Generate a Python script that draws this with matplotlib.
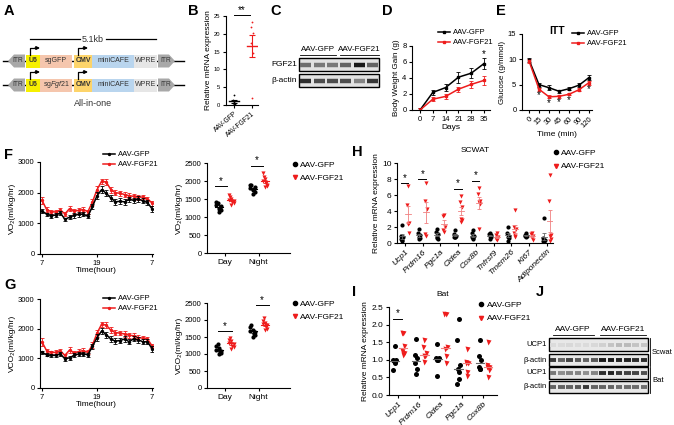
import matplotlib
matplotlib.use("Agg")
import matplotlib.pyplot as plt
import numpy as np
from matplotlib.lines import Line2D
from matplotlib.patches import Polygon, Rectangle

plt.rcParams["font.family"] = ["Liberation Sans", "DejaVu Sans"]
plt.rcParams["mathtext.fontset"] = "custom"
plt.rcParams["mathtext.rm"] = "Liberation Sans"
plt.rcParams["mathtext.it"] = "Liberation Sans:italic"
plt.rcParams["font.size"] = 5.5
plt.rcParams["axes.linewidth"] = 0.8

RED = "#ee1c1c"
GROUPS = ["AAV-GFP", "AAV-FGF21"]

# ---- A: construct parts
PARTS = ["U6", "sgGFP", "CMV", "miniCAFE", "WPRE"]
PARTS_2 = ["U6", "sg$\\mathit{Fgf21}$", "CMV", "miniCAFE", "WPRE"]
PART_COLORS = ["#f6f000", "#f5c6ad", "#fdd46a", "#b9d5ee", "#e6e6e6"]

# ---- B: Fgf21 mRNA
B_GFP = [2.9, 1.4, 1.0, 0.6, 0.3, 0.2]
B_FGF = [23.4, 21.8, 20.2, 17.5, 14.5, 2.1]

# ---- C: western blot intensities (6 lanes)
C_FGF21 = [0.55, 0.5, 0.5, 0.6, 0.95, 0.6]
C_ACTIN = [0.85, 0.7, 0.7, 0.7, 0.45, 0.8]

# ---- D: body weight gain
DAYS = [0, 7, 14, 21, 28, 35]
D_GFP = [0.0, 2.2, 2.8, 4.1, 4.6, 5.8]
D_GFP_ERR = [0.3, 0.3, 0.4, 0.7, 0.6, 0.7]
D_FGF = [0.0, 1.35, 1.7, 2.6, 3.2, 3.7]
D_FGF_ERR = [0.3, 0.25, 0.3, 0.3, 0.4, 0.6]

# ---- E: ITT
ITT_TIME = ["0", "15", "30", "45", "60", "90", "120"]
E_GFP = [9.9, 5.0, 4.4, 3.7, 4.2, 4.9, 6.4]
E_GFP_ERR = [0.4, 0.4, 0.5, 0.3, 0.3, 0.4, 0.5]
E_FGF = [9.7, 4.1, 2.6, 2.7, 3.1, 4.0, 5.4]
E_FGF_ERR = [0.4, 0.3, 0.3, 0.3, 0.2, 0.3, 0.4]
E_SIG = [1, 2, 3, 4, 6]

# ---- F / G: indirect calorimetry, hourly 7:00 -> 7:00
HOURS = list(range(7, 32))
VO2_GFP = [1400, 1300, 1250, 1270, 1340, 1130, 1200, 1260, 1290, 1300, 1230, 1550, 1900,
           2100, 1980, 1830, 1700, 1720, 1700, 1780, 1750, 1800, 1730, 1680, 1470]
VO2_GFP_ERR = [60, 50, 60, 60, 70, 60, 60, 70, 80, 70, 60, 90, 110,
               110, 100, 110, 100, 90, 100, 90, 80, 90, 80, 90, 110]
VO2_FGF = [1750, 1450, 1380, 1370, 1430, 1310, 1480, 1400, 1420, 1450, 1380, 1700, 2100,
           2370, 2350, 2100, 2000, 1980, 1940, 1900, 1880, 1850, 1860, 1800, 1660]
VO2_FGF_ERR = [120, 70, 60, 70, 80, 60, 90, 80, 80, 90, 70, 100, 120,
               80, 90, 100, 90, 80, 90, 80, 90, 80, 80, 70, 80]
VCO2_GFP = [1200, 1120, 1100, 1100, 1150, 980, 1020, 1100, 1150, 1150, 1120, 1400, 1700,
            1920, 1800, 1650, 1580, 1600, 1650, 1560, 1660, 1620, 1560, 1560, 1320]
VCO2_GFP_ERR = VO2_GFP_ERR
VCO2_FGF = [1550, 1260, 1200, 1200, 1250, 1100, 1280, 1180, 1230, 1260, 1200, 1450, 1850,
            2150, 2120, 1950, 1870, 1850, 1820, 1780, 1760, 1700, 1680, 1650, 1420]
VCO2_FGF_ERR = VO2_FGF_ERR

PERIODS = ["Day", "Night"]
VO2_DAY_GFP = [1150, 1330, 1200, 1400, 1260, 1230, 1420, 1300]
VO2_DAY_FGF = [1330, 1480, 1380, 1560, 1420, 1500, 1620, 1450]
VO2_NIGHT_GFP = [1640, 1800, 1700, 1880, 1770, 1740, 1900, 1830]
VO2_NIGHT_FGF = [1820, 2000, 1850, 2100, 1950, 2050, 2230, 1900]
VCO2_DAY_GFP = [1000, 1130, 1030, 1280, 1060, 1180, 1230, 1100]
VCO2_DAY_FGF = [1150, 1330, 1200, 1470, 1250, 1370, 1420, 1290]
VCO2_NIGHT_GFP = [1500, 1680, 1550, 1850, 1600, 1720, 1780, 1650]
VCO2_NIGHT_FGF = [1700, 1880, 1750, 2050, 1800, 1920, 1980, 1850]

# ---- H: SCWAT qPCR
H_GENES = ["Ucp1", "Prdm16", "Pgc1a", "Cidea", "Cox8b", "Tnfrsf9", "Tmem26", "Ki67", "Adiponectin"]
H_GFP = [[2.2, 0.9, 0.7, 0.5, 0.4, 0.3],
         [1.7, 1.3, 1.0, 0.8, 0.6, 0.5],
         [1.7, 1.4, 1.1, 0.8, 0.5, 0.6],
         [1.6, 1.1, 0.9, 0.8, 0.8, 0.7],
         [1.6, 1.2, 0.9, 0.8, 0.6, 0.5],
         [1.3, 1.1, 1.0, 0.9, 0.8, 0.5],
         [2.0, 1.2, 0.9, 0.8, 0.6, 0.2],
         [1.2, 1.0, 0.9, 0.9, 0.8],
         [3.1, 0.6, 0.4, 0.3, 0.2, 0.2]]
H_FGF = [[7.1, 4.8, 2.5, 2.4, 1.2],
         [7.5, 5.3, 4.3, 1.1, 0.9],
         [3.5, 3.4, 2.0, 1.6, 1.4],
         [5.9, 5.1, 4.5, 3.0, 2.9, 2.6],
         [6.9, 6.1, 5.2, 5.1, 4.9, 1.8],
         [1.3, 1.0, 0.7, 0.5, 0.4, 0.6],
         [4.1, 2.0, 1.7, 1.3, 0.9, 0.7],
         [1.3, 1.1, 0.9, 0.6, 0.4],
         [8.5, 5.2, 1.0, 0.9, 0.5, 0.2]]
H_SIG = {0: 7.45, 1: 8.0, 3: 6.8, 4: 7.8}

# ---- I: BAT qPCR
I_GENES = ["Ucp1", "Prdm16", "Cidea", "Pgc1a", "Cox8b"]
I_GFP = [[1.4, 1.0, 1.0, 0.98, 0.95, 0.9, 0.7],
         [1.6, 1.15, 1.05, 0.9, 0.75, 0.6],
         [1.45, 1.05, 1.05, 1.0, 1.0, 0.55],
         [2.15, 1.55, 0.85, 0.75, 0.65, 0.45, 0.3],
         [1.55, 1.1, 1.0, 0.8, 0.75, 0.75]]
I_FGF = [[1.75, 1.75, 1.4, 1.25, 1.2, 1.15],
         [1.55, 1.35, 1.2, 1.1, 1.1, 0.95],
         [2.3, 2.3, 1.35, 1.3, 1.1, 0.9],
         [1.3, 0.95, 0.92, 0.9, 0.65, 0.55],
         [1.5, 0.85, 0.8, 0.8, 0.7, 0.5]]
I_SIG = {0: 2.17}

# ---- J: western blot intensities (12 lanes)
J_ROWS = ["UCP1", "β-actin", "UCP1", "β-actin"]
J_BANDS = [[0.05, 0.05, 0.06, 0.05, 0.05, 0.06, 0.1, 0.16, 0.2, 0.2, 0.16, 0.15],
           [0.8, 0.6, 0.75, 0.65, 0.6, 0.65, 0.95, 0.95, 0.9, 0.9, 0.85, 0.85],
           [0.5, 0.4, 0.45, 0.45, 0.4, 0.45, 0.85, 0.9, 0.8, 0.75, 0.75, 0.7],
           [0.6, 0.6, 0.6, 0.65, 0.8, 0.6, 0.6, 0.6, 0.55, 0.55, 0.55, 0.55]]
J_TISSUES = ["Scwat", "Bat"]

W, H = 674, 425
fig = plt.figure(figsize=(W / 100, H / 100), dpi=100)


def px_axes(x0, y0, x1, y1):
    return fig.add_axes([x0 / W, 1 - y1 / H, (x1 - x0) / W, (y1 - y0) / H])


def px_canvas(x0, y0, x1, y1):
    ax = px_axes(x0, y0, x1, y1)
    ax.set_xlim(x0, x1)
    ax.set_ylim(y1, y0)
    ax.axis("off")
    return ax


def prism(ax, size=5.5):
    ax.spines["top"].set_visible(False)
    ax.spines["right"].set_visible(False)
    ax.tick_params(length=2.5, width=0.8, pad=1.5, labelsize=size)


def letter(x, y, s):
    fig.text(x / W, 1 - y / H, s, fontsize=10.5, fontweight="bold", va="top", ha="left")


def legend(ax, handles, x, y, size=5.5):
    ax.legend(handles, GROUPS, loc="upper left", bbox_to_anchor=(x / W, 1 - y / H),
              bbox_transform=fig.transFigure, frameon=False, fontsize=size,
              handlelength=1.6, handletextpad=0.4, borderpad=0, borderaxespad=0,
              labelspacing=0.35)


def sig(ax, x0, x1, y, dy, size=7, text="*"):
    ax.plot([x0, x1], [y, y], color="k", lw=0.7, clip_on=False)
    ax.text((x0 + x1) / 2, y + dy, text, ha="center", va="center", fontsize=size, clip_on=False)


def spread(n, w):
    return np.resize([0.0, -w, w, -w / 2, w / 2], n)


def blot(ax, x0, x1, y0, y1, bands, half, lw, bg):
    ax.add_patch(Rectangle((x0, y0), x1 - x0, y1 - y0, fc=bg, ec="k", lw=1.0))
    for j, b in enumerate(bands):
        xc = x0 + (x1 - x0) * (j + 0.5) / len(bands)
        g = 0.9 - 0.85 * b
        ax.plot([xc - half, xc + half], [(y0 + y1) / 2] * 2, color=(g, g, g), lw=lw,
                solid_capstyle="butt")


# ================= A =================
letter(4, 4, "A")
axA = px_canvas(0, 0, 195, 120)
axA.plot([30, 80], [39, 39], color="k", lw=0.9)
axA.plot([106, 156], [39, 39], color="k", lw=0.9)
axA.text(93, 39, "5.1kb", ha="center", va="center", fontsize=6.5, color="#333333")
spans = [(26, 40), (40, 72), (74, 92), (92, 134), (134, 157)]
for yc, names in ((61, PARTS), (85, PARTS_2)):
    axA.plot([3, 184], [yc, yc], color="k", lw=1.0, zorder=1)
    axA.add_patch(Polygon([(8, yc), (14, yc - 6.5), (25, yc - 6.5), (25, yc + 6.5), (14, yc + 6.5)],
                          closed=True, fc="#a8a8a8", ec="none", zorder=2))
    axA.add_patch(Polygon([(175, yc), (169, yc - 6.5), (158, yc - 6.5), (158, yc + 6.5), (169, yc + 6.5)],
                          closed=True, fc="#a8a8a8", ec="none", zorder=2))
    axA.text(18, yc, "ITR", ha="center", va="center", fontsize=4.8, color="#333333", zorder=3)
    axA.text(166, yc, "ITR", ha="center", va="center", fontsize=4.8, color="#333333", zorder=3)
    for (x0, x1), name, col in zip(spans, names, PART_COLORS):
        axA.add_patch(Rectangle((x0, yc - 6.5), x1 - x0, 13, fc=col, ec="none", zorder=2))
        axA.text((x0 + x1) / 2, yc, name, ha="center", va="center", fontsize=5,
                 color="#333333", zorder=3, fontweight="bold" if name in ("U6", "CMV") else "normal")
    for xp in (30, 78):
        axA.plot([xp, xp, xp + 6], [yc - 6.5, yc - 13, yc - 13], color="k", lw=0.9, zorder=3)
        axA.annotate("", xy=(xp + 10, yc - 13), xytext=(xp + 5, yc - 13),
                     arrowprops=dict(arrowstyle="-|>", lw=0.9, color="k", mutation_scale=5,
                                     shrinkA=0, shrinkB=0))
axA.text(93, 103, "All-in-one", ha="center", va="center", fontsize=6.5, color="#333333")

# ================= B =================
letter(188, 4, "B")
axB = px_axes(226, 16, 258, 105)
prism(axB, 4.2)
for i, (vals, col) in enumerate(((B_GFP, "k"), (B_FGF, RED))):
    v = np.array(vals)
    m, se = v.mean(), v.std(ddof=1) / np.sqrt(len(v))
    axB.plot(i + spread(len(v), 0.08), v, "o", ms=1.3, color=col, mec="none")
    axB.plot([i - 0.3, i + 0.3], [m, m], color=col, lw=1.0)
    axB.errorbar(i, m, yerr=se, color=col, capsize=2.5, elinewidth=0.8, capthick=0.8, fmt="none")
axB.set_xlim(-0.44, 1.33)
axB.set_ylim(0, 25)
axB.set_yticks([0, 5, 10, 15, 20, 25])
axB.set_xticks([0, 1])
axB.set_xticklabels(GROUPS, rotation=40, ha="right", rotation_mode="anchor", fontsize=4.8)
axB.set_ylabel("Relative mRNA expression", fontsize=6, labelpad=1)
sig(axB, 0.0, 0.9, 25.2, 1.6, size=7, text="**")

# ================= C =================
letter(270, 4, "C")
axC = px_canvas(240, 40, 385, 90)
for (y0, y1), bands, name in (((58, 71), C_FGF21, "FGF21"), ((74, 87), C_ACTIN, "β-actin")):
    blot(axC, 299, 379, y0, y1, bands, 5.5, 3.2, "#e2e2e2")
    axC.text(297, (y0 + y1) / 2, name, ha="right", va="center", fontsize=6)
axC.plot([300, 336], [55, 55], color="k", lw=0.6)
axC.plot([340, 379], [55, 55], color="k", lw=0.6)
axC.text(318, 53, GROUPS[0], ha="center", va="bottom", fontsize=5.8)
axC.text(359, 53, GROUPS[1], ha="center", va="bottom", fontsize=5.8)

# ================= D =================
letter(382, 4, "D")
axD = px_axes(412, 46, 490, 110)
prism(axD)
eb1 = axD.errorbar(DAYS, D_GFP, yerr=D_GFP_ERR, color="k", lw=1.1, marker="s", ms=1.5,
                   capsize=1.2, elinewidth=0.6, capthick=0.6)
eb2 = axD.errorbar(DAYS, D_FGF, yerr=D_FGF_ERR, color=RED, lw=1.1, marker="s", ms=1.5,
                   capsize=1.2, elinewidth=0.6, capthick=0.6)
axD.set_xlim(-4.4, 38.3)
axD.set_ylim(0, 8)
axD.set_xticks(DAYS)
axD.set_yticks([0, 2, 4, 6, 8])
axD.set_xlabel("Days", fontsize=6, labelpad=1)
axD.set_ylabel("Body Weight Gain (g)", fontsize=5.8, labelpad=1.5)
axD.text(35, 7.0, "*", ha="center", va="center", fontsize=7)
legend(axD, [eb1.lines[0], eb2.lines[0]], 438, 29)

# ================= E =================
letter(496, 4, "E")
axE = px_axes(522, 34, 592, 110)
prism(axE)
xs = np.arange(len(ITT_TIME))
e1 = axE.errorbar(xs, E_GFP, yerr=E_GFP_ERR, color="k", lw=1.1, marker="s", ms=1.5,
                  capsize=1.2, elinewidth=0.6, capthick=0.6)
e2 = axE.errorbar(xs, E_FGF, yerr=E_FGF_ERR, color=RED, lw=1.1, marker="s", ms=1.5,
                  capsize=1.2, elinewidth=0.6, capthick=0.6)
for k in E_SIG:
    axE.text(xs[k], E_FGF[k] - 1.2, "*", ha="center", va="center", fontsize=7)
axE.set_xlim(-0.7, 6.3)
axE.set_ylim(0, 15)
axE.set_yticks([0, 5, 10, 15])
axE.set_xticks(xs)
axE.set_xticklabels(ITT_TIME, rotation=45, ha="right", rotation_mode="anchor")
axE.set_xlabel("Time (min)", fontsize=6, labelpad=1)
axE.set_ylabel("Glucose (g/mmol)", fontsize=5.8, labelpad=1.5)
fig.text(557 / W, 1 - 31 / H, "ITT", fontsize=7.5, fontweight="bold", ha="center", va="center")
legend(axE, [e1.lines[0], e2.lines[0]], 572, 30)


# ================= F / G time course =================
def time_panel(box, gfp, gfp_err, fgf, fgf_err, ylabel, leg_xy):
    ax = px_axes(*box)
    prism(ax)
    l1 = ax.errorbar(HOURS, gfp, yerr=gfp_err, color="k", lw=1.1, marker="o", ms=1.4,
                     capsize=1.2, elinewidth=0.6, capthick=0.6)
    l2 = ax.errorbar(HOURS, fgf, yerr=fgf_err, color=RED, lw=1.1, marker="o", ms=1.4,
                     capsize=1.2, elinewidth=0.6, capthick=0.6, zorder=1)
    ax.set_xlim(6.56, 31.2)
    ax.set_ylim(0, 3000)
    ax.set_yticks([0, 1000, 2000, 3000])
    ax.set_xticks([7, 19, 31])
    ax.set_xticklabels(["7", "19", "7"])
    ax.set_xlabel("Time(hour)", fontsize=6, labelpad=0.5)
    ax.set_ylabel(ylabel, fontsize=6, labelpad=1.5)
    legend(ax, [l1.lines[0], l2.lines[0]], *leg_xy)


def period_panel(box, groups, ylabel, sig_spec, leg_xy):
    ax = px_axes(*box)
    prism(ax)
    for i, (g_vals, f_vals) in enumerate(groups):
        for vals, off, col, mk in ((g_vals, -0.18, "k", "o"), (f_vals, 0.19, RED, "v")):
            v = np.array(vals)
            m, se = v.mean(), v.std(ddof=1) / np.sqrt(len(v))
            ax.plot(i + off + spread(len(v), 0.07), v, mk, ms=3, color=col, mec="none")
            ax.plot([i + off - 0.12, i + off + 0.12], [m, m], color=col, lw=0.8)
            ax.errorbar(i + off, m, yerr=se, color=col, capsize=1.5, elinewidth=0.6,
                        capthick=0.6, fmt="none")
    for i, (x0, x1, y) in enumerate(sig_spec):
        sig(ax, i + x0, i + x1, y, 150)
    ax.set_xlim(-0.53, 1.93)
    ax.set_ylim(0, 2500)
    ax.set_yticks([0, 500, 1000, 1500, 2000, 2500])
    ax.set_xticks([0, 1])
    ax.set_xticklabels(PERIODS, fontsize=6)
    ax.set_ylabel(ylabel, fontsize=6, labelpad=1.5)
    h = [Line2D([], [], ls="none", marker="o", ms=3, color="k"),
         Line2D([], [], ls="none", marker="v", ms=3, color=RED)]
    ax.legend(h, GROUPS, loc="upper left", bbox_to_anchor=(leg_xy[0] / W, 1 - leg_xy[1] / H),
              bbox_transform=fig.transFigure, frameon=False, fontsize=6, handlelength=0.6,
              handletextpad=0.3, borderpad=0, borderaxespad=0, labelspacing=0.6)


letter(4, 148, "F")
time_panel((40, 162, 153, 254), VO2_GFP, VO2_GFP_ERR, VO2_FGF, VO2_FGF_ERR,
           "VO₂(ml/kg/hr)", (103, 151))
period_panel((207, 163, 290, 253), [(VO2_DAY_GFP, VO2_DAY_FGF), (VO2_NIGHT_GFP, VO2_NIGHT_FGF)],
             "VO₂(ml/kg/hr)", [(-0.3, 0.05, 1860), (-0.23, 0.12, 2420)], (292, 161))

letter(4, 278, "G")
time_panel((40, 299, 153, 388), VCO2_GFP, VCO2_GFP_ERR, VCO2_FGF, VCO2_FGF_ERR,
           "VCO₂(ml/kg/hr)", (103, 295))
period_panel((207, 303, 290, 388), [(VCO2_DAY_GFP, VCO2_DAY_FGF), (VCO2_NIGHT_GFP, VCO2_NIGHT_FGF)],
             "VCO₂(ml/kg/hr)", [(-0.19, 0.2, 1685), (-0.09, 0.3, 2440)], (292, 300))


# ================= H / I qPCR =================
def qpcr_panel(box, genes, gfp, fgf, sig_spec, title, xlim, ylim, yticks, leg_xy,
               center="mean", offsets=(-0.19, 0.18), ms=3):
    ax = px_axes(*box)
    prism(ax, 6)
    for i in range(len(genes)):
        for vals, off, col, mk, bar in ((gfp[i], offsets[0], "k", "o", "#666666"),
                                        (fgf[i], offsets[1], RED, "v", "#f08080")):
            v = np.array(vals)
            ax.plot(i + off + spread(len(v), 0.06), v, mk, ms=ms, color=col, mec="none")
            if center == "mean":
                m, se = v.mean(), v.std(ddof=1) / np.sqrt(len(v))
                ax.plot([i + off - 0.17, i + off + 0.17], [m, m], color=bar, lw=0.6)
                ax.errorbar(i + off, m, yerr=se, color=bar, capsize=1.5, elinewidth=0.6,
                            capthick=0.6, fmt="none")
            else:
                m = np.median(v)
                ax.plot([i + off - 0.2, i + off + 0.2], [m, m], color=bar, lw=0.8)
    for k, y in sig_spec.items():
        sig(ax, k - 0.24, k + 0.19, y, (ylim[1] - ylim[0]) * 0.065)
    ax.set_xlim(*xlim)
    ax.set_ylim(*ylim)
    ax.set_yticks(yticks)
    ax.set_xticks(range(len(genes)))
    ax.set_xticklabels(genes, rotation=45, ha="right", rotation_mode="anchor", style="italic")
    ax.set_ylabel("Relative mRNA expression", fontsize=6, labelpad=1.5)
    ax.set_title(title, fontsize=6, pad=8)
    h = [Line2D([], [], ls="none", marker="o", ms=3, color="k"),
         Line2D([], [], ls="none", marker="v", ms=3, color=RED)]
    ax.legend(h, GROUPS, loc="upper left", bbox_to_anchor=(leg_xy[0] / W, 1 - leg_xy[1] / H),
              bbox_transform=fig.transFigure, frameon=False, fontsize=6, handlelength=0.6,
              handletextpad=0.3, borderpad=0, borderaxespad=0, labelspacing=0.7)
    return ax


letter(352, 145, "H")
axH = qpcr_panel((397, 163, 553, 243), H_GENES, H_GFP, H_FGF, H_SIG, "SCWAT",
                 (-0.45, 8.34), (0, 10), [0, 2, 4, 6, 8, 10], (553, 149))
axH.set_yticklabels(["0", "2", "4", "6", "8", "10"])

letter(352, 285, "I")
axI = qpcr_panel((389, 307, 497, 395), I_GENES, I_GFP, I_FGF, I_SIG, "Bat",
                 (-0.42, 4.66), (0, 2.5), [0, 0.5, 1.0, 1.5, 2.0, 2.5], (479, 301),
                 center="median", offsets=(-0.15, 0.24), ms=3.6)
axI.set_yticklabels(["0.0", "0.5", "1.0", "1.5", "2.0", "2.5"])

# ================= J =================
letter(536, 285, "J")
axJ = px_canvas(515, 320, 674, 400)
rows_y = [(338, 351), (354, 366), (367, 379), (381, 393)]
for (y0, y1), name, bands in zip(rows_y, J_ROWS, J_BANDS):
    blot(axJ, 549, 648, y0, y1, bands, 3.3, 2.8, "#e8e8e8")
    axJ.text(547, (y0 + y1) / 2, name, ha="right", va="center", fontsize=5.5)
axJ.plot([553, 594], [335, 335], color="k", lw=0.6)
axJ.plot([600, 646], [335, 335], color="k", lw=0.6)
axJ.text(573, 333, GROUPS[0], ha="center", va="bottom", fontsize=6)
axJ.text(623, 333, GROUPS[1], ha="center", va="bottom", fontsize=6)
for (y0, y1), tissue in zip([(338, 366), (367, 393)], J_TISSUES):
    axJ.plot([650, 650], [y0, y1], color="k", lw=0.6)
    axJ.text(652, (y0 + y1) / 2, tissue, ha="left", va="center", fontsize=5.5)

fig.savefig("out.png", dpi=100)
